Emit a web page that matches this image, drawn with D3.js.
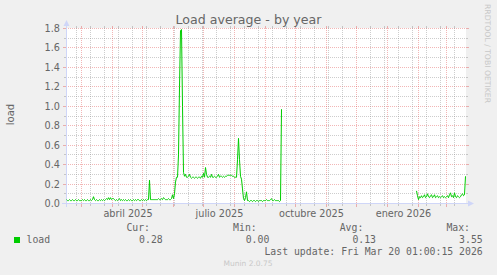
<!DOCTYPE html>
<html><head><meta charset="utf-8">
<script src="https://cdn.jsdelivr.net/npm/d3@7"></script>
<style>
html,body{margin:0;padding:0;background:#F0F0F0;}
svg{display:block;}
</style></head><body>
<svg id="chart" width="497" height="275"></svg>
<script>
// ---------- data ----------
const seriesName = "load";
const seg1Start = "2025-02-14";
const seg1Values = [
  0.04,0.03,0.03,0.04,0.03,0.03,0.04,0.03,0.03,0.04,
  0.03,0.03,0.04,0.03,0.03,0.03,0.04,0.03,0.04,0.03,
  0.03,0.04,0.03,0.03,0.04,0.03,0.04,0.07,0.04,0.03,
  0.04,0.03,0.03,0.04,0.03,0.04,0.03,0.04,0.03,0.04,
  0.05,0.04,0.06,0.04,0.06,0.04,0.05,0.05,0.04,0.03,
  0.04,0.03,0.04,0.05,0.03,0.04,0.03,0.04,0.03,0.04,
  0.03,0.03,0.04,0.03,0.04,0.03,0.03,0.04,0.03,0.04,
  0.03,0.04,0.04,0.03,0.03,0.04,0.03,0.04,0.03,0.04,
  0.03,0.04,0.04,0.24,0.04,0.04,0.04,0.04,0.04,0.04,
  0.04,0.04,0.05,0.04,0.04,0.05,0.04,0.06,0.05,0.04,
  0.04,0.04,0.05,0.04,0.04,0.05,0.09,0.05,0.10,0.22,
  0.27,0.27,0.50,1.20,1.78,1.79,1.00,0.32,0.28,0.30,
  0.27,0.27,0.28,0.30,0.27,0.26,0.27,0.27,0.26,0.27,
  0.27,0.26,0.27,0.27,0.26,0.28,0.27,0.31,0.27,0.37,
  0.30,0.27,0.27,0.28,0.27,0.30,0.27,0.27,0.28,0.27,
  0.27,0.28,0.30,0.27,0.28,0.28,0.27,0.28,0.27,0.28,
  0.28,0.29,0.29,0.29,0.29,0.29,0.28,0.28,0.27,0.27,
  0.27,0.45,0.67,0.45,0.28,0.25,0.15,0.05,0.03,0.06,
  0.12,0.03,0.03,0.02,0.03,0.03,0.02,0.03,0.03,0.02,
  0.03,0.03,0.02,0.03,0.03,0.03,0.02,0.03,0.03,0.03,
  0.04,0.03,0.03,0.03,0.04,0.05,0.03,0.03,0.04,0.03,
  0.03,0.03,0.03,0.02,0.03,0.97
];
const seg2Start = "2026-01-30";
const seg2Values = [
  0.13,0.08,0.04,0.07,0.06,0.08,0.06,0.07,0.09,0.06,
  0.07,0.10,0.07,0.06,0.08,0.09,0.06,0.07,0.09,0.06,
  0.07,0.08,0.06,0.07,0.06,0.07,0.08,0.06,0.07,0.06,
  0.07,0.08,0.06,0.09,0.11,0.07,0.08,0.06,0.11,0.07,
  0.06,0.08,0.07,0.06,0.07,0.09,0.10,0.08,0.09,0.28
];
const timeDomain = ["2025-02-14", "2026-03-21"];
const yMajorTicks = [0,0.2,0.4,0.6,0.8,1.0,1.2,1.4,1.6,1.8];
const yMinorTicks = [0.1,0.3,0.5,0.7,0.9,1.1,1.3,1.5,1.7];
const yTickLabels = ["0.0","0.2","0.4","0.6","0.8","1.0","1.2","1.4","1.6","1.8"];
const xLabelMonths = ["2025-04-01","2025-07-01","2025-10-01","2026-01-01"];
const xLabels = ["abril 2025","julio 2025","octubre 2025","enero 2026"];
const legendHeads = ["Cur:","Min:","Avg:","Max:"];
const legendValues = ["0.28","0.00","0.13","3.55"];
const titleText = "Load average - by year";
const yAxisLabel = "load";
const lastUpdate = "Last update: Fri Mar 20 01:00:15 2026";
const watermark = "Munin 2.0.75";
const sideText = "RRDTOOL / TOBI OETIKER";

// ---------- layout ----------
const X0 = 66, X1 = 466, Y0 = 203, Y1 = 28;
const lineColor = "#00CC00";
const fontColor = "#666666";
const axisColor = "#CFD6F8";
const gridColor = "rgba(144,144,144,0.45)";
const mgridColor = "rgba(224,80,80,0.42)";
const sans = "'DejaVu Sans', sans-serif";
const mono = "'DejaVu Sans Mono', monospace";

const svg = d3.select("#chart");
const parse = s => new Date(s + "T00:00:00Z");
const x = d3.scaleUtc().domain(timeDomain.map(parse)).range([X0, X1]);
const y = d3.scaleLinear().domain([0, 1.8]).range([Y0, Y1]);

// canvas
svg.append("rect").attr("x", X0).attr("y", Y1).attr("width", X1 - X0).attr("height", Y0 - Y1).attr("fill", "#FFFFFF");

const g = svg.append("g").attr("shape-rendering", "crispEdges");
const px = d => Math.round(x(d)) + 0.5;
const py = v => Math.round(y(v)) + 0.5;

// horizontal grid
function hline(v, color, tick) {
  const yy = py(v);
  g.append("line").attr("x1", X0).attr("x2", X1).attr("y1", yy).attr("y2", yy)
    .attr("stroke", color).attr("stroke-dasharray", "1,1");
  g.append("line").attr("x1", X0 - tick).attr("x2", X0).attr("y1", yy).attr("y2", yy).attr("stroke", color);
  g.append("line").attr("x1", X1).attr("x2", X1 + tick).attr("y1", yy).attr("y2", yy).attr("stroke", color);
}
yMinorTicks.forEach(v => hline(v, gridColor, 2));
yMajorTicks.forEach(v => hline(v, mgridColor, 3));

// vertical grid
const dStart = x.domain()[0], dEnd = x.domain()[1];
const months = d3.utcMonth.range(dStart, dEnd);
const mondays = d3.utcMonday.range(dStart, dEnd).filter((d, i) => i % 2 === 1);
function vline(d, color, tick) {
  const xx = px(d);
  g.append("line").attr("x1", xx).attr("x2", xx).attr("y1", Y1).attr("y2", Y0 + 1)
    .attr("stroke", color).attr("stroke-dasharray", "1,1");
  g.append("line").attr("x1", xx).attr("x2", xx).attr("y1", Y1 - 2).attr("y2", Y1).attr("stroke", color);
  g.append("line").attr("x1", xx).attr("x2", xx).attr("y1", Y0 + 1).attr("y2", Y0 + 1 + tick).attr("stroke", color);
}
mondays.filter(d => !months.some(m => Math.round(x(m)) === Math.round(x(d)))).forEach(d => vline(d, gridColor, 2));
months.forEach(d => vline(d, mgridColor, 3));

// data line
function segment(start, vals) {
  const s = parse(start);
  return vals.map((v, i) => ({ d: d3.utcDay.offset(s, i), v }));
}
const line = d3.line().x(p => x(p.d) + 0.5).y(p => y(p.v) + 0.5);
[segment(seg1Start, seg1Values), segment(seg2Start, seg2Values)].forEach(seg => {
  svg.append("path").attr("d", line(seg)).attr("fill", "none")
    .attr("stroke", lineColor).attr("stroke-width", 1);
});

// axes
g.append("line").attr("x1", X0 - 4).attr("x2", X1 + 4).attr("y1", Y0 + 0.5).attr("y2", Y0 + 0.5).attr("stroke", axisColor);
g.append("line").attr("x1", X0 + 0.5).attr("x2", X0 + 0.5).attr("y1", Y0 + 4).attr("y2", Y1 - 4).attr("stroke", axisColor);
svg.append("path").attr("d", `M${X1 + 2},${Y0 - 3 + 0.5}L${X1 + 2},${Y0 + 3.5}L${X1 + 8},${Y0 + 0.5}Z`).attr("fill", axisColor);
svg.append("path").attr("d", `M${X0 - 3 + 0.5},${Y1 - 2}L${X0 + 3.5},${Y1 - 2}L${X0 + 0.5},${Y1 - 8}Z`).attr("fill", axisColor);

// y tick labels
svg.selectAll(".ytl").data(yMajorTicks).enter().append("text")
  .attr("x", X0 - 6).attr("y", v => py(v) + 3.5).attr("text-anchor", "end")
  .attr("font-family", sans).attr("font-size", "9.7px").attr("fill", fontColor)
  .text((v, i) => yTickLabels[i]);

// x labels (centered on month)
svg.selectAll(".xtl").data(xLabelMonths).enter().append("text")
  .attr("x", s => { const m = parse(s); return (x(m) + x(d3.utcMonth.offset(m, 1))) / 2 + 1; })
  .attr("y", 216.5).attr("text-anchor", "middle")
  .attr("font-family", sans).attr("font-size", "9.7px").attr("fill", fontColor)
  .text((s, i) => xLabels[i]);

// title
svg.append("text").attr("x", 248.5).attr("y", 24).attr("text-anchor", "middle")
  .attr("font-family", sans).attr("font-size", "12.6px").attr("fill", fontColor).text(titleText);

// y axis label
svg.append("text").attr("transform", `translate(14,${(Y0 + Y1) / 2 - 1}) rotate(-90)`)
  .attr("text-anchor", "middle").attr("font-family", sans).attr("font-size", "10px")
  .attr("fill", fontColor).text(yAxisLabel);

// side text
svg.append("text").attr("transform", "translate(484.5,4) rotate(90)")
  .attr("text-anchor", "start").attr("font-family", sans).attr("font-size", "7.7px")
  .attr("fill", "#C8C8C8").text(sideText);

// legend
const headEnds = [150, 256.7, 363.3, 470];
const valEnds = [162.7, 269.3, 376, 482.7];
svg.selectAll(".lh").data(legendHeads).enter().append("text")
  .attr("x", (d, i) => headEnds[i]).attr("y", 231).attr("text-anchor", "end")
  .attr("font-family", mono).attr("font-size", "9.8px").attr("fill", fontColor).text(d => d);
svg.selectAll(".lv").data(legendValues).enter().append("text")
  .attr("x", (d, i) => valEnds[i]).attr("y", 243).attr("text-anchor", "end")
  .attr("font-family", mono).attr("font-size", "9.8px").attr("fill", fontColor).text(d => d);
svg.append("rect").attr("x", 14).attr("y", 237).attr("width", 6).attr("height", 6).attr("fill", lineColor);
svg.append("text").attr("x", 26.5).attr("y", 243).attr("font-family", mono).attr("font-size", "9.8px")
  .attr("fill", fontColor).text(seriesName);
svg.append("text").attr("x", 482.7).attr("y", 255).attr("text-anchor", "end")
  .attr("font-family", mono).attr("font-size", "9.8px").attr("fill", fontColor).text(lastUpdate);
svg.append("text").attr("x", 248).attr("y", 266).attr("text-anchor", "middle")
  .attr("font-family", sans).attr("font-size", "7.5px").attr("fill", "#C8C8C8").text(watermark);
</script>
</body></html>
